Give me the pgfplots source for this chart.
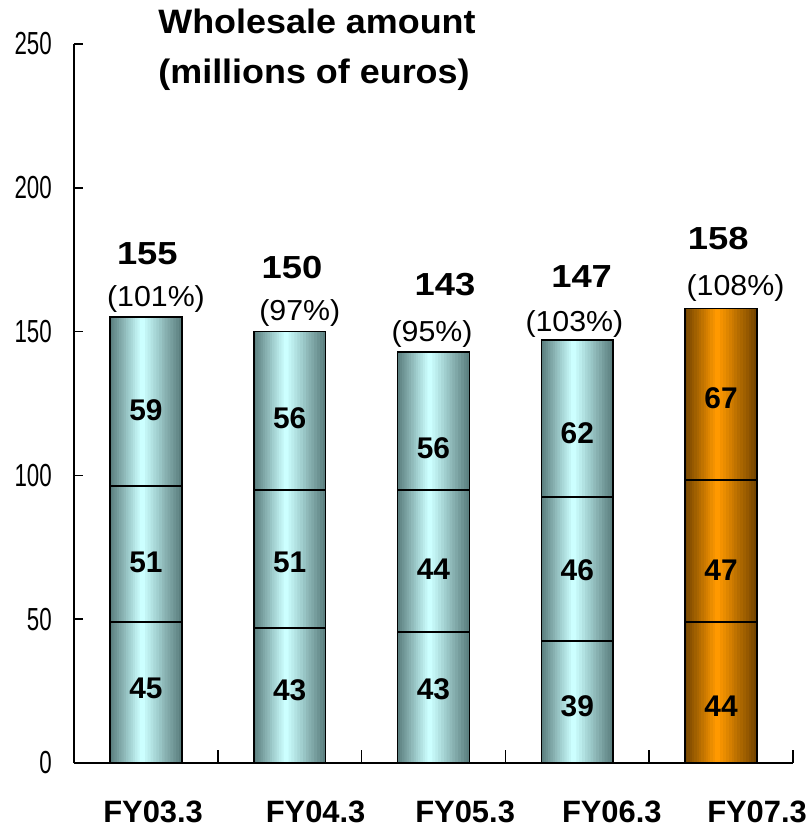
\documentclass[border=0pt]{standalone}
\usepackage{fontspec}
\setmainfont{Liberation Sans}
\newfontfamily\titlefont[FakeStretch=1.06]{Liberation Sans}
\newfontfamily\totfont[FakeStretch=1.14]{Liberation Sans}
\newfontfamily\pctfont[FakeStretch=1.05]{Liberation Sans}
\newfontfamily\narrowfont[FakeStretch=0.7]{Liberation Sans}
\usepackage{pgfplots}
\pgfplotsset{compat=1.18}
\usepackage{pgfplotstable}

\definecolor{tealE}{RGB}{92,128,128}
\definecolor{tealM}{RGB}{204,255,255}
\definecolor{orE}{RGB}{118,70,0}
\definecolor{orM}{RGB}{255,153,0}

% cumulative heights of the drawn segments
\pgfplotstableread{
x top mid bot
1 155 96.3 49.0
2 150 94.9 46.9
3 143 94.9 45.5
4 147 92.5 42.4
}\tealbars
\pgfplotstableread{
x top mid bot
5 158 98.4 49.0
}\orangebars

\pgfplotstableread{
x y label
1 122.7 59
1 69.9 51
1 25.9 45
2 120.0 56
2 69.9 51
2 25.4 43
3 109.4 56
3 67.5 44
3 25.7 43
4 114.7 62
4 67.1 46
4 19.8 39
5 126.7 67
5 67.1 47
5 19.8 44
}\seglabels

\pgfplotstableread{
x y label
1.01 173.2 155
2.016 168.6 150
3.08 162.7 143
4.03 165.5 147
4.98 178.4 158
}\totlabels

\pgfplotstableread{
x y label
1.07 158.9 101
2.07 154.0 97
2.99 146.4 95
3.98 149.9 103
5.10 162.7 108
}\pctlabels

\pgfplotsset{
  stripe/.style n args={3}{ybar, bar width=#1, bar shift=#2, fill=#3, draw=none, forget plot},
  outline/.style={ybar, bar width=0.5, bar shift=0pt, fill=none, draw=black, line width=1.6bp, forget plot},
}
% nested bars of decreasing width give the horizontal gradient of each column
\newcommand\stripeplots[3]{%
  \addplot[stripe={0.500}{0}{#3!0!#2}] table[x=x, y=top] {#1};
  \addplot[stripe={0.464}{-0.002}{#3!8!#2}] table[x=x, y=top] {#1};
  \addplot[stripe={0.429}{-0.004}{#3!15!#2}] table[x=x, y=top] {#1};
  \addplot[stripe={0.393}{-0.006}{#3!23!#2}] table[x=x, y=top] {#1};
  \addplot[stripe={0.357}{-0.008}{#3!31!#2}] table[x=x, y=top] {#1};
  \addplot[stripe={0.321}{-0.010}{#3!38!#2}] table[x=x, y=top] {#1};
  \addplot[stripe={0.286}{-0.012}{#3!46!#2}] table[x=x, y=top] {#1};
  \addplot[stripe={0.250}{-0.013}{#3!54!#2}] table[x=x, y=top] {#1};
  \addplot[stripe={0.214}{-0.015}{#3!62!#2}] table[x=x, y=top] {#1};
  \addplot[stripe={0.179}{-0.017}{#3!69!#2}] table[x=x, y=top] {#1};
  \addplot[stripe={0.143}{-0.019}{#3!77!#2}] table[x=x, y=top] {#1};
  \addplot[stripe={0.107}{-0.021}{#3!85!#2}] table[x=x, y=top] {#1};
  \addplot[stripe={0.071}{-0.023}{#3!92!#2}] table[x=x, y=top] {#1};
  \addplot[stripe={0.036}{-0.025}{#3!100!#2}] table[x=x, y=top] {#1};
}

\begin{document}
\begin{tikzpicture}
\begin{axis}[
  at={(0,0)}, anchor=south west,
  scale only axis, width=719bp, height=719bp,
  xmin=0.5, xmax=5.5, ymin=0, ymax=250,
  axis lines=left,
  axis line style={-, line width=2.2bp, black},
  tick align=inside,
  ytick={0,50,100,150,200,250},
  yticklabels={0,50,100,150,200,250},
  yticklabel style={font=\narrowfont\fontsize{32}{32}\selectfont, inner sep=0pt, anchor=east, xshift=-22bp},
  major tick length=9bp,
  minor tick length=13bp,
  ytick style={line width=1.5bp, black},
  xtick={1.05,2.18,3.22,4.24,5.25},
  xticklabels={FY03.3,FY04.3,FY05.3,FY06.3,FY07.3},
  xticklabel style={font=\bfseries\fontsize{31}{31}\selectfont, anchor=base, inner sep=0pt, yshift=-59bp},
  major x tick style={draw=none},
  minor xtick={0.5,1.5,2.5,3.5,4.5,5.5},
  minor x tick style={line width=1.5bp, black},
  clip=false,
]
\stripeplots{\tealbars}{tealE}{tealM}
\stripeplots{\orangebars}{orE}{orM}
% outlines and segment lines
\addplot[outline] table[x=x, y=top] {\tealbars};
\addplot[outline] table[x=x, y=mid] {\tealbars};
\addplot[outline] table[x=x, y=bot] {\tealbars};
\addplot[outline] table[x=x, y=top] {\orangebars};
\addplot[outline] table[x=x, y=mid] {\orangebars};
\addplot[outline] table[x=x, y=bot] {\orangebars};
% labels
\addplot[draw=none, mark=none, nodes near coords, point meta=explicit symbolic,
  every node near coord/.append style={anchor=center, inner sep=0pt, font=\bfseries\fontsize{30}{30}\selectfont}]
  table[x=x, y=y, meta=label] {\seglabels};
\addplot[draw=none, mark=none, nodes near coords, point meta=explicit symbolic,
  every node near coord/.append style={anchor=base, inner sep=0pt, font=\totfont\bfseries\fontsize{32}{32}\selectfont}]
  table[x=x, y=y, meta=label] {\totlabels};
\addplot[draw=none, mark=none, nodes near coords={(\pgfplotspointmeta\%)}, point meta=explicit symbolic,
  every node near coord/.append style={anchor=base, inner sep=0pt, font=\pctfont\fontsize{29}{29}\selectfont}]
  table[x=x, y=y, meta=label] {\pctlabels};
\end{axis}
\node[anchor=base, inner sep=0pt, font=\titlefont\bfseries\fontsize{34}{34}\selectfont] at (243bp,729bp) {Wholesale amount};
\node[anchor=base, inner sep=0pt, font=\titlefont\bfseries\fontsize{34}{34}\selectfont] at (240bp,679bp) {(millions of euros)};
\pgfresetboundingbox
\path[use as bounding box] (-74bp,-64bp) rectangle (734bp,763bp);
\end{tikzpicture}
\end{document}
